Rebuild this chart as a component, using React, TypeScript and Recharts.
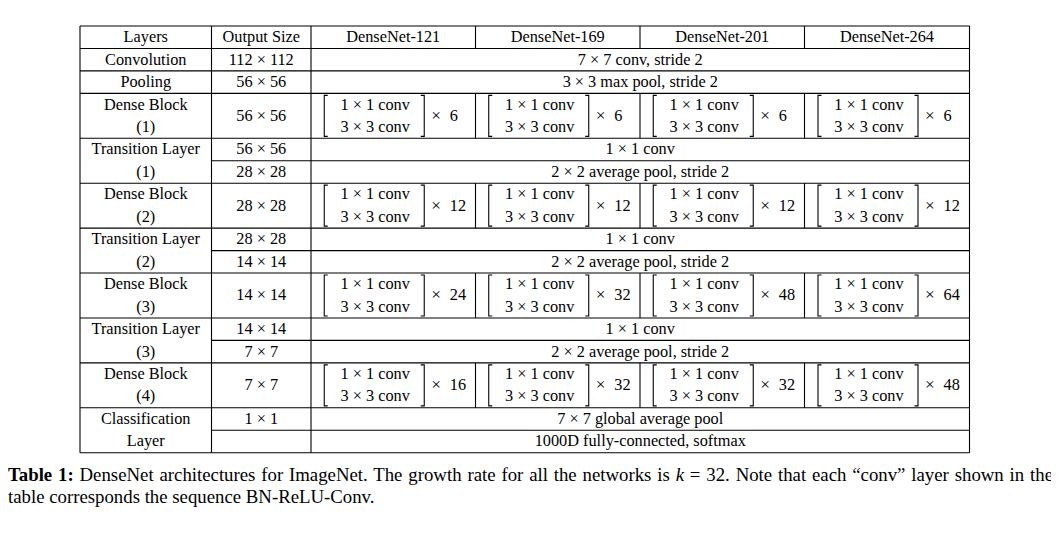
import React from "react";
import { ScatterChart, Scatter, XAxis, YAxis, ReferenceLine } from "recharts";

// ---------- data ----------
const headerLabels = ["Layers", "Output Size"];
const networks = ["DenseNet-121", "DenseNet-169", "DenseNet-201", "DenseNet-264"];
const layerLines: string[][] = [
  ["Convolution"],
  ["Pooling"],
  ["Dense Block", "(1)"],
  ["Transition Layer", "(1)"],
  ["Dense Block", "(2)"],
  ["Transition Layer", "(2)"],
  ["Dense Block", "(3)"],
  ["Transition Layer", "(3)"],
  ["Dense Block", "(4)"],
  ["Classification", "Layer"],
];
const outputSizes: string[][] = [
  ["112 × 112"],
  ["56 × 56"],
  ["56 × 56"],
  ["56 × 56", "28 × 28"],
  ["28 × 28"],
  ["28 × 28", "14 × 14"],
  ["14 × 14"],
  ["14 × 14", "7 × 7"],
  ["7 × 7"],
  ["1 × 1", ""],
];
const sharedOps: (string[] | null)[] = [
  ["7 × 7 conv, stride 2"],
  ["3 × 3 max pool, stride 2"],
  null,
  ["1 × 1 conv", "2 × 2 average pool, stride 2"],
  null,
  ["1 × 1 conv", "2 × 2 average pool, stride 2"],
  null,
  ["1 × 1 conv", "2 × 2 average pool, stride 2"],
  null,
  ["7 × 7 global average pool", "1000D fully-connected, softmax"],
];
const blockRepeats: (number[] | null)[] = [
  null,
  null,
  [6, 6, 6, 6],
  null,
  [12, 12, 12, 12],
  null,
  [24, 32, 48, 64],
  null,
  [16, 32, 32, 48],
  null,
];
const rowSpans = [1, 1, 2, 2, 2, 2, 2, 2, 2, 2];
const blockLines = ["1 × 1 conv", "3 × 3 conv"];
const captionLabel = "Table 1:";
const captionLine1a = " DenseNet architectures for ImageNet. The growth rate for all the networks is ";
const captionMathVar = "k";
const captionLine1b = " = 32. Note that each “conv” layer shown in the";
const captionLine2 = "table corresponds the sequence BN-ReLU-Conv.";

// ---------- layout ----------
const W = 1059;
const H = 538;
const TOP = 26;
const BOTTOM = 452.7;
const colEdges = [80, 211.5, 311, 475.5, 640, 804.5, 969.5];
const FONT = "'Liberation Serif', 'Times New Roman', serif";
const FS = 16.3;
const DY = 4.9;
const TOTAL_ROWS = 1 + rowSpans.reduce((a, b) => a + b, 0);
const ROW_H = (BOTTOM - TOP) / TOTAL_ROWS;

const mid = (a: number, b: number) => (a + b) / 2;

type TextItem = { x: number; y: number; text: string };
type BlockItem = { x: number; y: number; n: number };
type Seg = { x1: number; x2: number; y1: number; y2: number };

const textItems: TextItem[] = [];
const blockItems: BlockItem[] = [];
const segs: Seg[] = [];

const headerAll = [...headerLabels, ...networks];
headerAll.forEach((t, i) => textItems.push({ x: mid(colEdges[i], colEdges[i + 1]), y: 0.5, text: t }));

const placeLines = (lines: string[], x: number, r: number, span: number) => {
  if (lines.length === 1) textItems.push({ x, y: r + span / 2, text: lines[0] });
  else lines.forEach((t, j) => t && textItems.push({ x, y: r + j + 0.5, text: t }));
};

segs.push({ x1: colEdges[0], x2: colEdges[6], y1: 0, y2: 0 });
[3, 4, 5].forEach((c) => segs.push({ x1: colEdges[c], x2: colEdges[c], y1: 0, y2: 1 }));

let r = 1;
layerLines.forEach((lines, g) => {
  const span = rowSpans[g];
  segs.push({ x1: colEdges[0], x2: colEdges[6], y1: r, y2: r });
  placeLines(lines, mid(colEdges[0], colEdges[1]), r, span);
  placeLines(outputSizes[g], mid(colEdges[1], colEdges[2]), r, span);
  const ops = sharedOps[g];
  if (ops) placeLines(ops, mid(colEdges[2], colEdges[6]), r, span);
  if (outputSizes[g].length === 2) segs.push({ x1: colEdges[1], x2: colEdges[6], y1: r + 1, y2: r + 1 });
  const reps = blockRepeats[g];
  if (reps) {
    reps.forEach((n, k) => blockItems.push({ x: mid(colEdges[2 + k], colEdges[3 + k]), y: r + span / 2, n }));
    [3, 4, 5].forEach((c) => segs.push({ x1: colEdges[c], x2: colEdges[c], y1: r, y2: r + span }));
  }
  r += span;
});
segs.push({ x1: colEdges[0], x2: colEdges[6], y1: TOTAL_ROWS, y2: TOTAL_ROWS });
[0, 1, 2, 6].forEach((c) => segs.push({ x1: colEdges[c], x2: colEdges[c], y1: 0, y2: TOTAL_ROWS }));

// ---------- shapes ----------
const TextShape = (props: any) => {
  const { cx, cy, payload } = props;
  return (
    <text x={cx} y={cy} dy={DY} textAnchor="middle" fontFamily={FONT} fontSize={FS} fill="#000">
      {payload.text}
    </text>
  );
};

const BlockShape = (props: any) => {
  const { cx, cy, payload } = props;
  const lx = cx - 69;
  const rx = cx + 31;
  const h = 20.5;
  const tick = 3.5;
  return (
    <g>
      <path d={`M${lx + tick},${cy - h}H${lx}V${cy + h}H${lx + tick}`} fill="none" stroke="#000" strokeWidth={1.1} />
      <path d={`M${rx - tick},${cy - h}H${rx}V${cy + h}H${rx - tick}`} fill="none" stroke="#000" strokeWidth={1.1} />
      {blockLines.map((t, j) => (
        <text
          key={j}
          x={cx - 18}
          y={cy + (j === 0 ? -ROW_H / 2 : ROW_H / 2)}
          dy={DY}
          textAnchor="middle"
          fontFamily={FONT}
          fontSize={FS}
          fill="#000"
        >
          {t}
        </text>
      ))}
      <text x={cx + 38} y={cy} dy={DY} textAnchor="start" fontFamily={FONT} fontSize={FS + 1} fill="#000">
        {"×"}
      </text>
      <text x={cx + 56.5} y={cy} dy={DY} textAnchor="start" fontFamily={FONT} fontSize={FS} fill="#000">
        {payload.n}
      </text>
    </g>
  );
};

export default function App() {
  return (
    <div style={{ position: "relative", margin: -8, width: W, height: H, background: "#fff", overflow: "hidden" }}>
      <ScatterChart width={W} height={H} margin={{ top: TOP, right: 0, bottom: H - BOTTOM, left: 0 }}>
        <XAxis type="number" dataKey="x" domain={[0, W]} hide allowDataOverflow />
        <YAxis type="number" dataKey="y" domain={[0, TOTAL_ROWS]} reversed hide allowDataOverflow />
        {segs.map((s, i) => (
          <ReferenceLine
            key={i}
            segment={[
              { x: s.x1, y: s.y1 },
              { x: s.x2, y: s.y2 },
            ]}
            stroke="#000"
            strokeWidth={1.1}
            ifOverflow="visible"
          />
        ))}
        <Scatter data={textItems} shape={TextShape} isAnimationActive={false} />
        <Scatter data={blockItems} shape={BlockShape} isAnimationActive={false} />
      </ScatterChart>
      <div
        style={{
          position: "absolute",
          left: 8,
          top: 464.2,
          width: 1045,
          fontFamily: FONT,
          fontSize: 18.8,
          lineHeight: "22px",
          color: "#000",
        }}
      >
        <div style={{ textAlign: "justify", textAlignLast: "justify", wordSpacing: "-1.6px" }}>
          <b>{captionLabel}</b>
          {captionLine1a}
          <i>{captionMathVar}</i>
          {captionLine1b}
        </div>
        <div style={{ whiteSpace: "nowrap" }}>{captionLine2}</div>
      </div>
    </div>
  );
}
